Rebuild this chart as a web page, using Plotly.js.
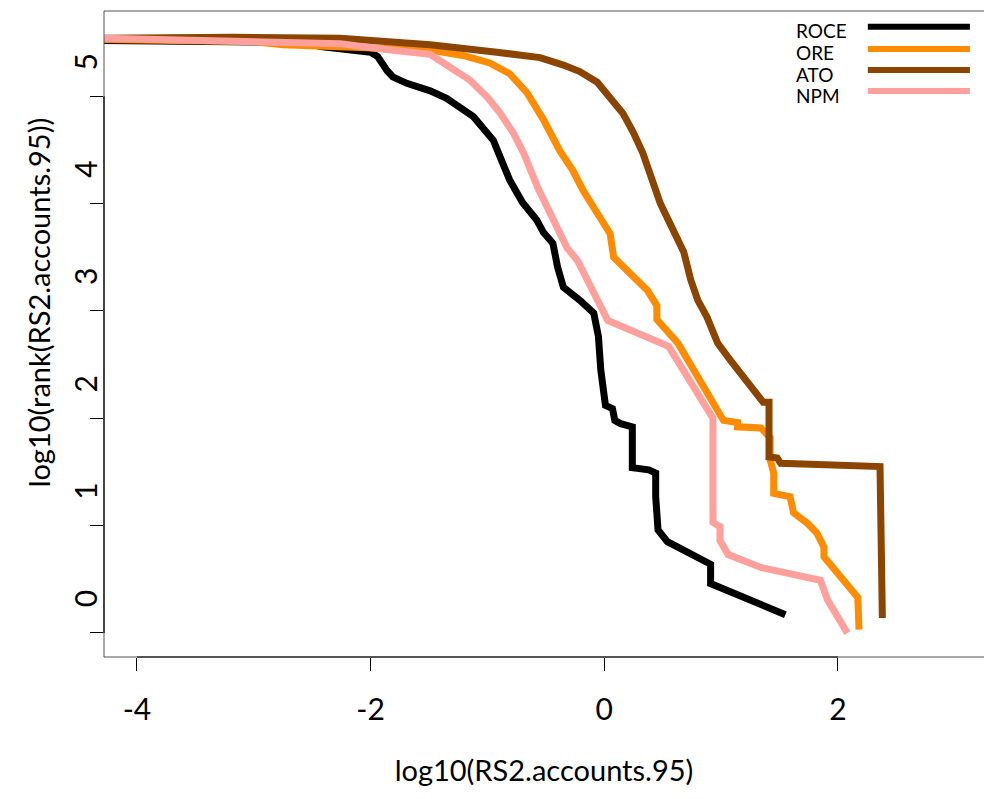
<!DOCTYPE html>
<html><head><meta charset="utf-8">
<script src="https://cdn.plot.ly/plotly-3.0.1.min.js"></script>
<style>html,body{margin:0;padding:0;background:#fff}</style>
</head><body><div id="chart" style="width:984px;height:799px"></div>
<script>
const seriesNames = ['ROCE', 'ORE', 'ATO', 'NPM'];
const seriesColors = ['#000000', '#FF8C00', '#8B4500', '#FFA09C'];

const roceX = [-4.32, -3.03, -2.60, -2.41, -2.22, -2.06, -2.00, -1.94, -1.89, -1.86, -1.81, -1.69, -1.49, -1.35, -1.12, -0.95, -0.89, -0.81, -0.70, -0.58, -0.52, -0.44, -0.40, -0.35, -0.21, -0.09, -0.05, -0.03, 0.01, 0.07, 0.09, 0.14, 0.24, 0.24, 0.38, 0.44, 0.44, 0.46, 0.54, 0.71, 0.91, 0.91, 1.55];
const roceY = [5.52, 5.51, 5.50, 5.46, 5.44, 5.43, 5.41, 5.37, 5.28, 5.24, 5.18, 5.12, 5.05, 4.98, 4.81, 4.59, 4.43, 4.22, 4.01, 3.85, 3.73, 3.63, 3.41, 3.22, 3.10, 2.98, 2.76, 2.45, 2.12, 2.09, 1.98, 1.95, 1.92, 1.54, 1.52, 1.49, 1.27, 0.96, 0.85, 0.76, 0.64, 0.46, 0.17];

const oreX = [-4.32, -3.03, -2.75, -1.49, -1.21, -0.98, -0.81, -0.66, -0.52, -0.38, -0.27, -0.18, -0.06, 0.05, 0.08, 0.22, 0.37, 0.45, 0.45, 0.63, 0.99, 1.02, 1.14, 1.14, 1.34, 1.42, 1.42, 1.45, 1.45, 1.59, 1.62, 1.74, 1.82, 1.88, 1.88, 2.17, 2.18];
const oreY = [5.53, 5.51, 5.48, 5.43, 5.38, 5.31, 5.21, 5.03, 4.78, 4.49, 4.31, 4.12, 3.91, 3.72, 3.50, 3.35, 3.19, 3.05, 2.92, 2.70, 2.05, 1.98, 1.96, 1.92, 1.91, 1.82, 1.61, 1.49, 1.30, 1.27, 1.12, 1.02, 0.93, 0.80, 0.71, 0.33, 0.03];

const atoX = [-4.32, -3.18, -2.26, -1.89, -1.49, -0.92, -0.55, -0.35, -0.21, -0.06, 0.05, 0.16, 0.25, 0.33, 0.48, 0.58, 0.68, 0.74, 0.80, 0.88, 0.97, 1.08, 1.36, 1.41, 1.41, 1.48, 1.51, 2.36, 2.38];
const atoY = [5.54, 5.55, 5.54, 5.51, 5.48, 5.41, 5.36, 5.29, 5.23, 5.13, 4.99, 4.84, 4.66, 4.47, 4.00, 3.77, 3.55, 3.29, 3.10, 2.94, 2.70, 2.54, 2.15, 2.15, 1.64, 1.63, 1.58, 1.55, 0.14];

const npmX = [-4.32, -3.26, -2.69, -2.26, -1.98, -1.69, -1.49, -1.32, -1.15, -1.00, -0.89, -0.78, -0.69, -0.57, -0.44, -0.32, -0.23, -0.12, 0.03, 0.55, 0.93, 0.93, 0.99, 0.99, 1.06, 1.34, 1.85, 1.91, 2.08];
const npmY = [5.54, 5.52, 5.50, 5.49, 5.45, 5.42, 5.39, 5.27, 5.15, 4.99, 4.84, 4.66, 4.47, 4.15, 3.87, 3.59, 3.47, 3.22, 2.91, 2.67, 2.00, 1.03, 0.99, 0.86, 0.73, 0.61, 0.49, 0.31, 0.00];

const xTickVals = [-4, -2, 0, 2];
const yTickVals = [0, 1, 2, 3, 4, 5];

const FONT = 'Lato, "Open Sans", "DejaVu Sans", sans-serif';
const seriesX = [roceX, oreX, atoX, npmX];
const seriesY = [roceY, oreY, atoY, npmY];

const traces = seriesNames.map((n, i) => ({
  type: 'scatter', mode: 'lines', name: n,
  x: seriesX[i], y: seriesY[i],
  line: {color: seriesColors[i], width: 7},
  showlegend: false, hoverinfo: 'skip'
}));

const shapes = [
  {type: 'rect', xref: 'paper', yref: 'paper', x0: 0, x1: 1.05, y0: 0, y1: 1, line: {color: '#555', width: 1}},
  {type: 'line', xref: 'x', yref: 'paper', x0: xTickVals[0], x1: xTickVals[xTickVals.length - 1], y0: 0, y1: 0, line: {color: '#000', width: 1.2}},
  {type: 'line', xref: 'paper', yref: 'y', x0: 0, x1: 0, y0: yTickVals[0], y1: yTickVals[yTickVals.length - 1], line: {color: '#000', width: 1.2}}
];
const annotations = [
  {text: 'log10(rank(RS2.accounts.95))', xref: 'paper', yref: 'paper', x: 0, y: 0.549, xshift: -66,
   xanchor: 'center', yanchor: 'middle', textangle: -90, showarrow: false, font: {family: FONT, size: 29, color: '#000'}}
];
const legLineY = [0.9757, 0.9412, 0.9086, 0.8761];
seriesNames.forEach((n, i) => {
  shapes.push({type: 'line', xref: 'paper', yref: 'paper', x0: 0.868, x1: 0.984, y0: legLineY[i], y1: legLineY[i],
    line: {color: seriesColors[i], width: 6}});
  annotations.push({text: n, xref: 'paper', yref: 'paper', x: 0.785, y: legLineY[i], yshift: -4,
    xanchor: 'left', yanchor: 'middle', showarrow: false, borderpad: 0, height: 17, valign: 'middle',
    font: {family: FONT, size: 19, color: '#000'}});
});

const layout = {
  width: 984, height: 799,
  margin: {l: 104, r: 0, t: 11, b: 142, pad: 0},
  paper_bgcolor: '#fff', plot_bgcolor: '#fff',
  showlegend: false,
  xaxis: {
    range: [-4.282, 3.25], tickvals: xTickVals, ticktext: xTickVals.map(String),
    ticks: 'outside', ticklen: 13, tickwidth: 1, tickcolor: '#000',
    showgrid: false, zeroline: false, showline: false,
    tickfont: {family: FONT, size: 30, color: '#000'}, ticklabelstandoff: 13,
    title: {text: 'log10(RS2.accounts.95)', font: {family: FONT, size: 29, color: '#000'}, standoff: 35}
  },
  yaxis: {
    range: [-0.224, 5.794], tickvals: yTickVals, ticktext: yTickVals.map(String),
    ticks: 'outside', ticklen: 13, tickwidth: 1, tickcolor: '#000',
    showgrid: false, zeroline: false, showline: false,
    tickangle: -90, ticklabelshift: -30, ticklabelstandoff: -19,
    tickfont: {family: FONT, size: 30, color: '#000'}
  },
  shapes: shapes,
  annotations: annotations
};

Plotly.newPlot('chart', traces, layout, {displayModeBar: false, staticPlot: true});
</script>
</body></html>
